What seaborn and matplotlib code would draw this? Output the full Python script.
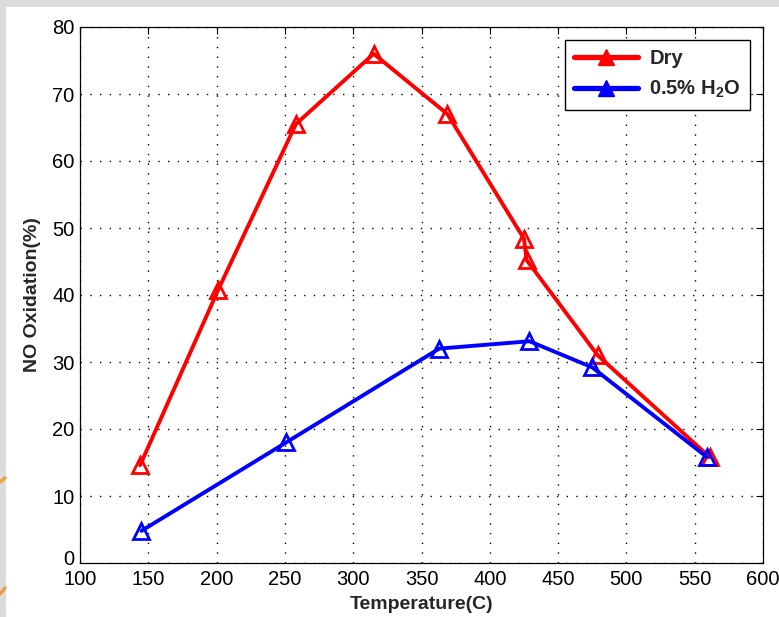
import matplotlib
matplotlib.use("Agg")
import matplotlib.pyplot as plt
import matplotlib.patches as mpatches
import matplotlib.transforms as mtransforms
from matplotlib.lines import Line2D
import seaborn as sns
import pandas as pd

# Data
dry_temp = [144, 201, 258, 315, 369, 425, 427, 479, 561]
dry_ox = [14.6, 40.7, 65.5, 76.0, 67.0, 48.4, 45.2, 31.0, 15.8]
wet_temp = [145, 251, 363, 429, 475, 559]
wet_ox = [4.8, 18.0, 32.0, 33.1, 29.2, 15.8]
series_names = ["Dry", "0.5% H2O"]
legend_labels = ["Dry", r"0.5% H$_\mathbf{2}$O"]
x_ticks = [100, 150, 200, 250, 300, 350, 400, 450, 500, 550, 600]
y_ticks = [0, 10, 20, 30, 40, 50, 60, 70, 80]

df = pd.DataFrame({
    "Temperature": dry_temp + wet_temp,
    "Oxidation": dry_ox + wet_ox,
    "Series": [series_names[0]] * len(dry_temp) + [series_names[1]] * len(wet_temp),
})

sns.set_style("white")
plt.rcParams["font.family"] = ["Liberation Sans", "DejaVu Sans"]
plt.rcParams["mathtext.fontset"] = "custom"
plt.rcParams["mathtext.rm"] = "Liberation Sans"
plt.rcParams["mathtext.bf"] = "Liberation Sans:bold"

fig = plt.figure(figsize=(7.79, 6.17), dpi=100)
fig.patch.set_facecolor("#dcdcdc")
# white slide panel behind the chart
fig.add_artist(mpatches.Rectangle((6 / 779, 0), 1, 1 - 7 / 617, transform=fig.transFigure,
                                  facecolor="white", edgecolor="none", zorder=-10))
# faint orange marks on the left strip
for ya, yb in [(482, 478), (594, 588)]:
    fig.add_artist(Line2D([0, 5 / 779], [1 - ya / 617, 1 - yb / 617], transform=fig.transFigure,
                          color="#e8a040", lw=2.5, zorder=-9))

ax = fig.add_axes([80 / 779, 1 - 563 / 617, (763 - 80) / 779, (563 - 27) / 617])
ax.set_facecolor("white")

palette = {series_names[0]: "#ff0000", series_names[1]: "#0000ff"}
sns.lineplot(data=df, x="Temperature", y="Oxidation", hue="Series", palette=palette,
             sort=False, estimator=None, marker="^", markersize=11, linewidth=2.8,
             ax=ax, legend=False, zorder=3)
for ln in ax.lines:
    ln.set_markerfacecolor("none")
    ln.set_markeredgecolor(ln.get_color())
    ln.set_markeredgewidth(2.0)

ax.set_xlim(100, 600)
ax.set_ylim(0, 80)
ax.set_xticks(x_ticks)
ax.set_yticks(y_ticks)
ax.tick_params(axis="both", direction="in", length=5, width=0.8, labelsize=14.5,
               top=True, right=True, colors="black")
ax.tick_params(axis="x", pad=5)
ax.tick_params(axis="y", pad=4)
ax.grid(True, color="black", linestyle=(0, (1, 6)), linewidth=1.0)
for sp in ax.spines.values():
    sp.set_color("black")
    sp.set_linewidth(0.9)
    sp.set_visible(True)

ax.set_xlabel("Temperature(C)", fontsize=14, fontweight="bold", labelpad=5)
ax.set_ylabel("NO Oxidation(%)", fontsize=14, fontweight="bold", labelpad=8)

# nudge the "0" y label up a bit so it does not collide with "100"
fig.canvas.draw()
lbl0 = ax.get_yticklabels()[0]
lbl0.set_transform(lbl0.get_transform() + mtransforms.ScaledTranslation(0, 4 / 72, fig.dpi_scale_trans))

handles = [Line2D([0], [0], color=palette[n], lw=3.8, marker="^", markersize=12,
                  markerfacecolor=palette[n], markeredgecolor=palette[n]) for n in series_names]
leg = ax.legend(handles, legend_labels, loc="upper right", frameon=True,
                fancybox=False, edgecolor="black", framealpha=1, handlelength=3.2,
                borderpad=0.45, labelspacing=0.55, handletextpad=0.55,
                bbox_to_anchor=(1 - 13 / 683, 1 - 13 / 536), borderaxespad=0,
                prop={"weight": "bold", "size": 14.5})
leg.get_frame().set_linewidth(1.0)

fig.savefig("out.png", dpi=100, facecolor=fig.get_facecolor())
